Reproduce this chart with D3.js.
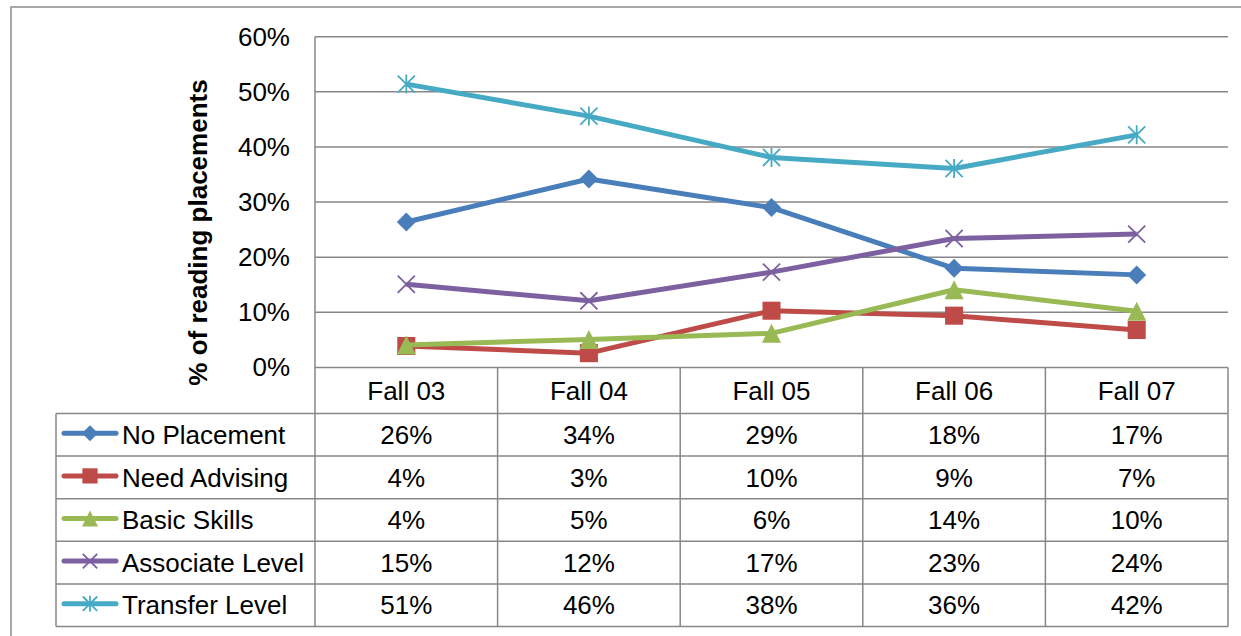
<!DOCTYPE html>
<html>
<head>
<meta charset="utf-8">
<script src="https://cdn.jsdelivr.net/npm/d3@7"></script>
<style>
  body { margin: 0; background: #fff; }
  svg { display: block; font-family: "Liberation Sans", Arial, sans-serif; }
</style>
</head>
<body>
<div id="wrapper"></div>
<script>
// chart data
const categories = ["Fall 03", "Fall 04", "Fall 05", "Fall 06", "Fall 07"];
const seriesNames = ["No Placement", "Need Advising", "Basic Skills", "Associate Level", "Transfer Level"];
const noPlacement    = [0.264, 0.342, 0.290, 0.180, 0.168];
const needAdvising   = [0.039, 0.026, 0.103, 0.094, 0.068];
const basicSkills    = [0.041, 0.051, 0.062, 0.141, 0.102];
const associateLevel = [0.151, 0.121, 0.173, 0.234, 0.242];
const transferLevel  = [0.514, 0.456, 0.381, 0.361, 0.422];
const yTicks = [0, 0.1, 0.2, 0.3, 0.4, 0.5, 0.6];
const yTitle = "% of reading placements";

const seriesValues = [noPlacement, needAdvising, basicSkills, associateLevel, transferLevel];
const colors = ["#4a7ebb", "#be4b48", "#98b954", "#7d60a0", "#46aac5"];
const markers = ["diamond", "square", "triangle", "x", "star"];

const W = 1241, H = 636;
const plotLeft = 315, plotRight = 1228, plotTop = 36.7, plotBottom = 367.5;
const tableLeft = 56, headerH = 46, rowH = 42.6;
const grid = "#878787";

const svg = d3.select("#wrapper").append("svg")
  .attr("width", W).attr("height", H);

// outer chart border
svg.append("rect")
  .attr("x", 11).attr("y", 7)
  .attr("width", W + 10).attr("height", H + 10)
  .attr("fill", "none").attr("stroke", "#8c8c8c").attr("stroke-width", 1.5);

const x = d3.scaleBand().domain(categories).range([plotLeft, plotRight]).padding(0);
const y = d3.scaleLinear().domain([0, 0.6]).range([plotBottom, plotTop]);
const pct = d3.format(".0%");

// gridlines
svg.append("g")
  .selectAll("line")
  .data(yTicks)
  .enter()
  .append("line")
  .attr("x1", plotLeft).attr("x2", plotRight)
  .attr("y1", d => y(d)).attr("y2", d => y(d))
  .attr("stroke", grid).attr("stroke-width", 1.5);

// y axis
const yAxis = svg.append("g")
  .attr("transform", `translate(${plotLeft},0)`)
  .call(d3.axisLeft(y).tickValues(yTicks).tickFormat(pct).tickSize(0).tickPadding(25));
yAxis.select(".domain").remove();
yAxis.selectAll("text")
  .attr("font-size", 26)
  .attr("font-family", "Liberation Sans, Arial, sans-serif")
  .attr("fill", "#000");

// y title
svg.append("text")
  .attr("transform", `translate(207, ${232.5}) rotate(-90)`)
  .attr("text-anchor", "middle")
  .attr("font-size", 26)
  .attr("font-weight", "bold")
  .text(yTitle);

// data table
const rowY = i => plotBottom + headerH + i * rowH; // top of data row i
const tableBottom = rowY(seriesNames.length);
const tbl = svg.append("g").attr("stroke", grid).attr("stroke-width", 1.5);

// horizontal table lines
tbl.selectAll("line.h")
  .data(d3.range(seriesNames.length + 1))
  .enter()
  .append("line")
  .attr("x1", tableLeft).attr("x2", plotRight)
  .attr("y1", i => rowY(i)).attr("y2", i => rowY(i));
tbl.append("line")
  .attr("x1", tableLeft).attr("x2", tableLeft)
  .attr("y1", rowY(0)).attr("y2", tableBottom);
tbl.append("line")
  .attr("x1", plotLeft).attr("x2", plotLeft)
  .attr("y1", plotTop).attr("y2", tableBottom);
// column separators
tbl.selectAll("line.v")
  .data(categories)
  .enter()
  .append("line")
  .attr("x1", d => x(d) + x.bandwidth()).attr("x2", d => x(d) + x.bandwidth())
  .attr("y1", plotBottom).attr("y2", tableBottom);

// category headers
svg.append("g")
  .selectAll("text")
  .data(categories)
  .enter()
  .append("text")
  .attr("x", d => x(d) + x.bandwidth() / 2)
  .attr("y", plotBottom + headerH / 2)
  .attr("dy", "0.35em")
  .attr("text-anchor", "middle")
  .attr("font-size", 26)
  .text(d => d);

// marker shapes
function marker(sel, type, color, s) {
  const h = s / 2;
  if (type === "diamond") {
    sel.append("path").attr("d", `M0,${-h}L${h},0L0,${h}L${-h},0Z`).attr("fill", color);
  } else if (type === "square") {
    sel.append("rect").attr("x", -h * 0.95).attr("y", -h * 0.95)
      .attr("width", s * 0.95).attr("height", s * 0.95).attr("fill", color);
  } else if (type === "triangle") {
    sel.append("path").attr("d", `M0,${-h}L${h},${h}L${-h},${h}Z`).attr("fill", color);
  } else if (type === "x") {
    const k = h * 0.9;
    sel.append("path").attr("d", `M${-k},${-k}L${k},${k}M${-k},${k}L${k},${-k}`)
      .attr("stroke", color).attr("stroke-width", 1.8).attr("fill", "none");
  } else {
    const k = h * 0.9;
    sel.append("path")
      .attr("d", `M${-k},${-k}L${k},${k}M${-k},${k}L${k},${-k}M0,${-h}L0,${h}`)
      .attr("stroke", color).attr("stroke-width", 1.8).attr("fill", "none");
  }
}

// series lines
const line = d3.line()
  .x((d, i) => x(categories[i]) + x.bandwidth() / 2)
  .y(d => y(d));

const series = svg.append("g")
  .selectAll("g")
  .data(seriesValues)
  .enter()
  .append("g");

series.append("path")
  .attr("d", d => line(d))
  .attr("fill", "none")
  .attr("stroke", (d, i) => colors[i])
  .attr("stroke-width", 5)
  .attr("stroke-linejoin", "round");

series.each(function (vals, si) {
  d3.select(this).selectAll("g.pt")
    .data(vals)
    .enter()
    .append("g")
    .attr("transform", (d, i) => `translate(${x(categories[i]) + x.bandwidth() / 2},${y(d)})`)
    .each(function () { marker(d3.select(this), markers[si], colors[si], 19); });
});

// legend cells and values
seriesNames.forEach((name, si) => {
  const cy = rowY(si) + rowH / 2;
  const lg = svg.append("g");
  lg.append("line")
    .attr("x1", 64).attr("x2", 116).attr("y1", cy - 1.5).attr("y2", cy - 1.5)
    .attr("stroke", colors[si]).attr("stroke-width", 5).attr("stroke-linecap", "round");
  marker(lg.append("g").attr("transform", `translate(90,${cy - 1.5})`), markers[si], colors[si], 16);
  lg.append("text")
    .attr("x", 122).attr("y", cy).attr("dy", "0.35em")
    .attr("font-size", 26)
    .text(name);

  svg.append("g")
    .selectAll("text")
    .data(seriesValues[si])
    .enter()
    .append("text")
    .attr("x", (d, i) => x(categories[i]) + x.bandwidth() / 2)
    .attr("y", cy)
    .attr("dy", "0.35em")
    .attr("text-anchor", "middle")
    .attr("font-size", 26)
    .text(d => pct(d));
});
</script>
</body>
</html>
